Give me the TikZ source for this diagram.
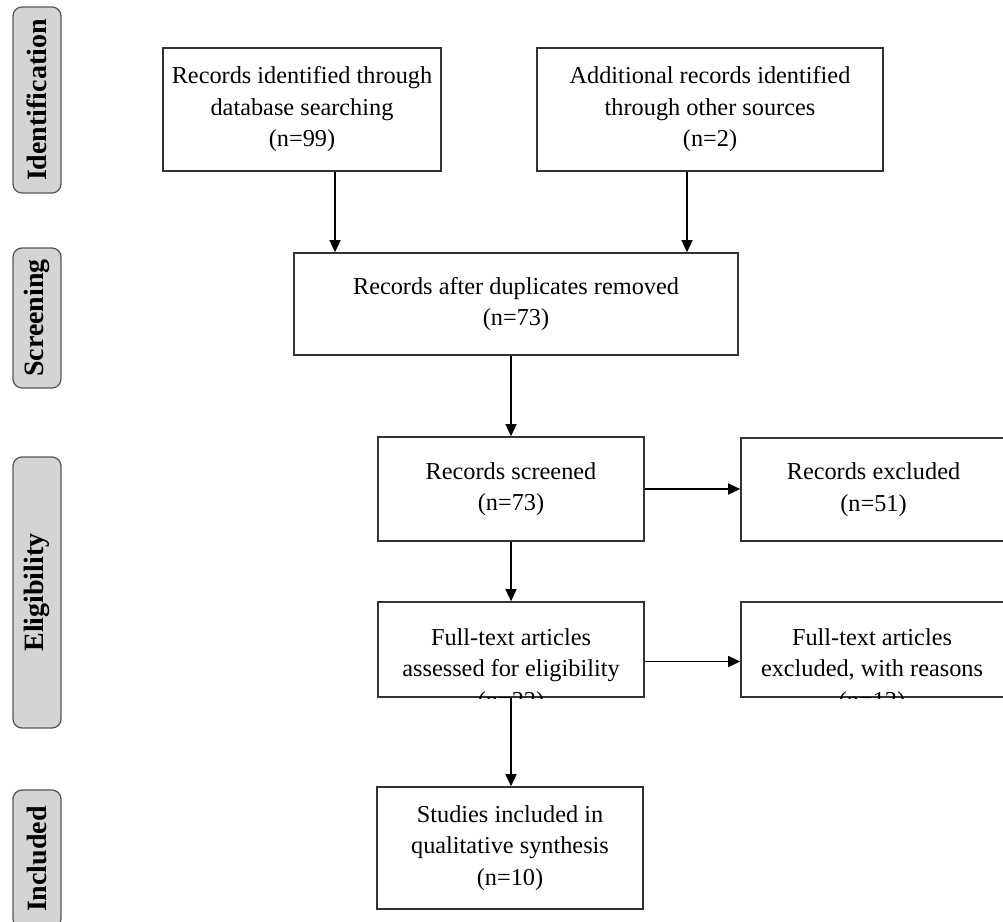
\documentclass[tikz,border=0pt]{standalone}
\usepackage{fontspec}
\setmainfont{Liberation Serif}
\usetikzlibrary{arrows.meta,calc}

\tikzset{
  box/.style={draw=black!80, line width=1.6pt, align=center, inner sep=0pt,
    font=\fontsize{24.3}{31.5}\selectfont},
  boxtext/.style={align=center, inner sep=0pt, font=\fontsize{24.3}{31.5}\selectfont},
  phase/.style={draw=black!65, fill=black!17, rounded corners=9pt, line width=1.3pt,
    minimum height=48pt, inner sep=0pt, rotate=90, font=\fontsize{28}{30}\selectfont\bfseries},
}

\begin{document}
\begin{tikzpicture}[x=1pt,y=-1pt]
  \clip (0,0) rectangle (1003,921);
  \fill[white] (0,0) rectangle (1003,921);

  % stage labels
  \node[phase, minimum width=186pt] (ident) at (37,100) {Identification};
  \node[phase, minimum width=140pt] (screen) at (37,318) {Screening};
  \node[phase, minimum width=271pt] (elgb) at (37,592.5) {Eligibility};
  \node[phase, minimum width=138pt] (incld) at (37,859) {Included};

  % boxes
  \node[box, minimum width=278pt, minimum height=123pt] (db) at (302,109.5)
    {Records identified through\\database searching\\(n=99)};
  \node[box, minimum width=346pt, minimum height=123pt] (other) at (710,109.5)
    {Additional records identified\\through other sources\\(n=2)};
  \node[box, minimum width=444pt, minimum height=102pt] (dup) at (516,304)
    {Records after duplicates removed\\(n=73)};
  \node[box, minimum width=266pt, minimum height=104pt] (screened) at (511,489)
    {Records screened\\(n=73)};
  \node[box, minimum width=265pt, minimum height=103pt] (excl) at (873.5,489.5)
    {Records excluded\\(n=51)};
  \node[box, minimum width=266pt, minimum height=95pt] (elig) at (511,649.5) {};
  \node[boxtext] (eligt) at (511,671)
    {Full-text articles\\assessed for eligibility\\(n=22)};
  \node[box, minimum width=265pt, minimum height=95pt] (fexcl) at (873.5,649.5) {};
  \node[boxtext] (fexclt) at (872,671)
    {Full-text articles\\excluded, with reasons\\(n=12)};
  \node[box, minimum width=266pt, minimum height=122pt] (incl) at (510,848)
    {Studies included in\\qualitative synthesis\\(n=10)};

  % text cut off under the two boxes
  \fill[white] ($(elig.south west)+(-5,1)$) rectangle ($(elig.south east)+(5,25)$);
  \fill[white] ($(fexcl.south west)+(-5,1)$) rectangle ($(fexcl.south east)+(5,25)$);

  \coordinate (dbout) at ([xshift=33]db.south);
  \coordinate (otherout) at ([xshift=-23]other.south);
  \coordinate (eligout) at ([yshift=-12]elig.east);

  \path[->, >={Triangle[length=12pt,width=11pt]}, line width=1.4pt]
    (dbout) edge (dbout |- dup.north)
    (otherout) edge (otherout |- dup.north)
    (screened.north |- dup.south) edge (screened.north)
    (screened.east) edge (screened.east -| excl.west)
    (screened.south) edge (elig.north)
    (eligout) edge (eligout -| fexcl.west)
    (elig.south) edge (elig.south |- incl.north);
\end{tikzpicture}
\end{document}
